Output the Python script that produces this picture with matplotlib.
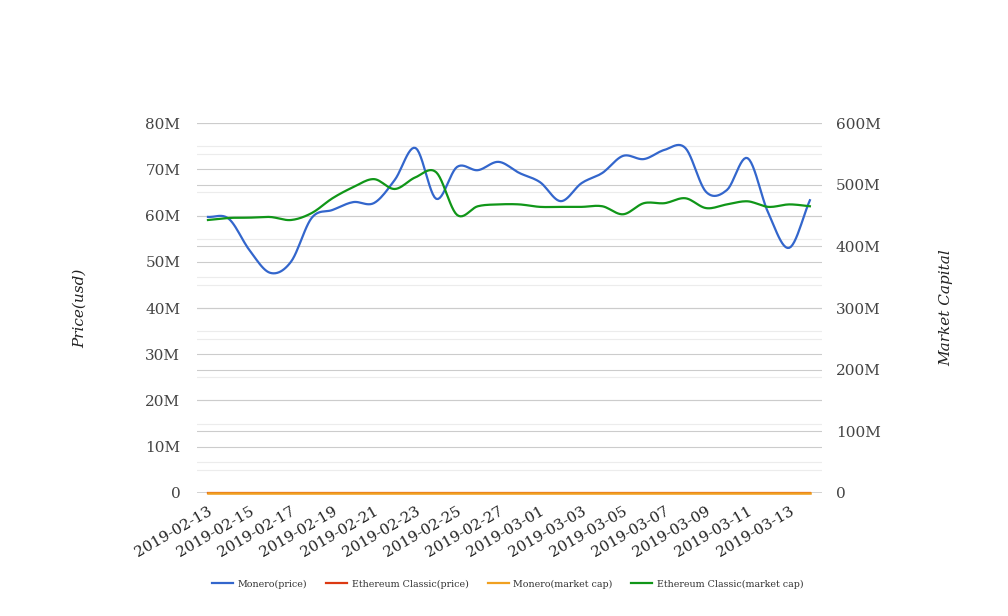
import numpy as np
import pandas as pd
import matplotlib

matplotlib.use("Agg")
import matplotlib.pyplot as plt
from matplotlib.lines import Line2D
from matplotlib.ticker import FuncFormatter

dates = pd.date_range("2019-02-13", "2019-03-14", freq="D")

# left axis (Price(usd)), in millions
monero_price = [59.7, 59.3, 52.5, 47.6, 50.0, 59.5, 61.2, 62.9, 62.7, 67.7,
                74.6, 63.6, 70.5, 69.8, 71.6, 69.2, 67.2, 63.1, 67.0, 69.2,
                72.9, 72.2, 74.2, 74.6, 65.1, 65.5, 72.4, 60.5, 53.0, 63.3]
# plain usd, lies on the zero line at this scale
etc_price_usd = [4.1, 4.1, 4.1, 4.1, 4.1, 4.2, 4.3, 4.4, 4.5, 4.4,
                 4.6, 4.7, 4.1, 4.2, 4.2, 4.2, 4.2, 4.2, 4.2, 4.2,
                 4.1, 4.3, 4.3, 4.4, 4.2, 4.3, 4.3, 4.2, 4.2, 4.2]

# right axis (Market Capital), in millions
monero_cap = [0.0] * 30
etc_cap = [442.7, 446.0, 446.5, 447.6, 442.7, 454.0, 478.0, 496.0, 509.0, 493.0,
           512.0, 520.0, 451.0, 465.0, 468.0, 468.0, 464.0, 464.0, 464.0, 465.0,
           452.0, 470.0, 470.0, 478.0, 462.0, 468.0, 473.0, 464.0, 468.0, 465.0]

left_ticks = [0, 10, 20, 30, 40, 50, 60, 70, 80]
right_ticks = [0, 100, 200, 300, 400, 500, 600]
tick_dates = dates[::2]

BLUE, RED, ORANGE, GREEN = "#3366cc", "#dc3912", "#f0a020", "#109618"


def smooth(values, n=12):
    # Catmull-Rom curve through the points (index coordinates)
    y = np.asarray(values, dtype=float)
    p = np.concatenate([[2 * y[0] - y[1]], y, [2 * y[-1] - y[-2]]])
    xs, ys = [], []
    t = np.linspace(0, 1, n, endpoint=False)
    for i in range(len(y) - 1):
        p0, p1, p2, p3 = p[i], p[i + 1], p[i + 2], p[i + 3]
        seg = 0.5 * (2 * p1 + (-p0 + p2) * t + (2 * p0 - 5 * p1 + 4 * p2 - p3) * t ** 2
                     + (-p0 + 3 * p1 - 3 * p2 + p3) * t ** 3)
        xs.append(i + t)
        ys.append(seg)
    xs.append([len(y) - 1])
    ys.append([y[-1]])
    return np.concatenate(xs), np.concatenate(ys)


plt.rcParams["font.family"] = ["DejaVu Serif"]

fig = plt.figure(figsize=(10.08, 6.16), dpi=100)
ax = fig.add_axes([0.1954, 0.1997, 0.6200, 0.6006])
ax2 = ax.twinx()

ax.set_ylim(0, 80)
ax2.set_ylim(0, 600)
ax.set_xlim(-0.53, len(dates) - 1 + 0.58)

# gridlines of both scales, drawn on the left axes in left units
scale = 80 / 600
for v in np.arange(5, 80, 10):
    ax.axhline(v, color="#ececec", lw=0.8, zorder=0)
for v in np.arange(50, 600, 100):
    ax.axhline(v * scale, color="#ececec", lw=0.8, zorder=0)
for v in left_ticks[1:]:
    ax.axhline(v, color="#cccccc", lw=0.8, zorder=0.5)
for v in right_ticks[1:]:
    ax.axhline(v * scale, color="#cccccc", lw=0.8, zorder=0.5)
ax.axhline(0, color="#222222", lw=1.0, zorder=1)

xi = np.arange(len(dates))
sx, sy = smooth(monero_price)
ax.plot(sx, sy, color=BLUE, lw=1.6, zorder=3)
ax.plot(xi, np.array(etc_price_usd) / 1e6, color=RED, lw=1.6, zorder=3, clip_on=False)

sx2, sy2 = smooth(etc_cap)
ax2.plot(sx2, sy2, color=GREEN, lw=1.6, zorder=3)
ax2.plot(xi, monero_cap, color=ORANGE, lw=1.8, zorder=4, clip_on=False)

fmt = FuncFormatter(lambda v, _: "0" if v == 0 else f"{v:g}M")
ax.set_yticks(left_ticks)
ax.yaxis.set_major_formatter(fmt)
ax2.set_yticks(right_ticks)
ax2.yaxis.set_major_formatter(fmt)

tick_pos = [dates.get_loc(d) for d in tick_dates]
ax.set_xticks(tick_pos)
ax.set_xticklabels([d.strftime("%Y-%m-%d") for d in tick_dates], rotation=30,
                   ha="right", va="top", rotation_mode="anchor")

for a in (ax, ax2):
    for s in a.spines.values():
        s.set_visible(False)
    a.patch.set_visible(False)
ax.tick_params(axis="y", length=0, pad=12, labelsize=11, labelcolor="#444444")
ax2.tick_params(axis="y", length=0, pad=10, labelsize=11, labelcolor="#444444")
ax.tick_params(axis="x", length=0, pad=8, labelsize=10.8, labelcolor="#222222")

ax.set_ylabel("Price(usd)", fontsize=11, style="italic", color="#222222", labelpad=42)
ax2.set_ylabel("Market Capital", fontsize=11, style="italic", color="#222222",
               labelpad=42, rotation=90)

handles = [Line2D([], [], color=BLUE, lw=1.6),
           Line2D([], [], color=RED, lw=1.6),
           Line2D([], [], color=ORANGE, lw=1.6),
           Line2D([], [], color=GREEN, lw=1.6)]
labels = ["Monero(price)", "Ethereum Classic(price)", "Monero(market cap)",
          "Ethereum Classic(market cap)"]
fig.legend(handles, labels, loc="center", bbox_to_anchor=(0.504, 0.052), ncol=4,
           frameon=False, fontsize=6.8, handlelength=2.2, handletextpad=0.5,
           columnspacing=2.0, labelcolor="#333333")

fig.savefig("out.png", dpi=100)
